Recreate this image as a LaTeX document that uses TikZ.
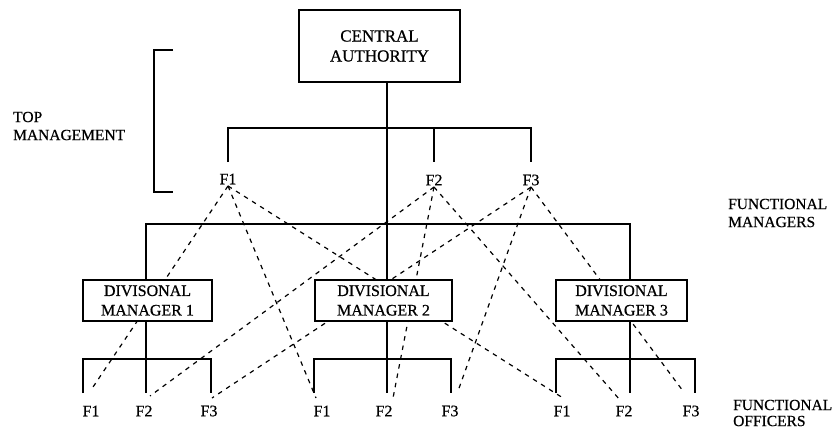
\documentclass[tikz,border=0pt]{standalone}
\usepackage{fontspec}
\setmainfont{Liberation Serif}[FakeBold=0.6]
\newfontfamily\plate{Liberation Serif}[FakeBold=0.6]
\usetikzlibrary{backgrounds}
\begin{document}
\begin{tikzpicture}[x=1pt,y=-1pt,
  box/.style={draw,line width=1.1pt,fill=white,inner sep=0pt,align=center,
              font=\plate\fontsize{16}{19.5}\selectfont},
  lbl/.style={inner sep=1.5pt,font=\plate\fontsize{16}{19}\selectfont},
  side/.style={inner sep=0pt,align=left,anchor=west,
               font=\plate\fontsize{15.5}{18}\selectfont},
  org/.style={line width=1.1pt},
  fline/.style={line width=1.2pt,dash pattern=on 4.5pt off 5pt}]
\useasboundingbox (0,0) rectangle (840,429);

% levels of the solid tree
\coordinate (topbar) at (0,128);
\coordinate (topend) at (0,162);
\coordinate (midbar) at (0,224);
\coordinate (lowbar) at (0,359);
\coordinate (lowend) at (0,393);
% vertical trunk of each division
\coordinate (x1) at (146,0);
\coordinate (x2) at (387,0);
\coordinate (x3) at (630,0);
% outer drops of the officer groups
\coordinate (g1l) at (83,393);  \coordinate (g1r) at (211,393);
\coordinate (g2l) at (314,393); \coordinate (g2r) at (451,393);
\coordinate (g3l) at (556,393); \coordinate (g3r) at (695,393);

% boxes
\node[box,minimum width=161pt,minimum height=72pt,font=\plate\fontsize{17}{20}\selectfont] (ca) at (379.5,46) {CENTRAL\\AUTHORITY};
\node[box,minimum width=129pt,minimum height=41pt] (dm1) at (147.5,300.5) {DIVISONAL\\MANAGER 1};
\node[box,minimum width=137pt,minimum height=41pt] (dm2) at (383.5,300.5) {DIVISIONAL\\MANAGER 2};
\node[box,minimum width=131pt,minimum height=41pt] (dm3) at (621.5,300.5) {DIVISIONAL\\MANAGER 3};

% functional managers
\node[lbl] (tf1) at (228,179) {F1};
\node[lbl] (tf2) at (434,180) {F2};
\node[lbl] (tf3) at (531,180) {F3};

% functional officers
\node[lbl] (a1) at (91,411) {F1};
\node[lbl] (a2) at (144,411) {F2};
\node[lbl] (a3) at (209,411) {F3};
\node[lbl] (b1) at (322,411) {F1};
\node[lbl] (b2) at (384,411) {F2};
\node[lbl] (b3) at (450,411) {F3};
\node[lbl] (c1) at (562,411) {F1};
\node[lbl] (c2) at (624,411) {F2};
\node[lbl] (c3) at (691,411) {F3};

% side captions
\node[side] (tm) at (13,126) {TOP\\MANAGEMENT};
\node[side] (fm) at (728,213) {FUNCTIONAL\\MANAGERS};
\node[side,font=\plate\fontsize{15.5}{16}\selectfont] (fo) at (733,413) {FUNCTIONAL\\OFFICERS};

% bracket for top management
\coordinate (bt) at (173,50);
\coordinate (bb) at (173,192);
\draw[org] (bt) -- ++(-19,0) -- ++(0,142) -- (bb);

% solid lines of authority
\draw[org] (tf1 |- topend) -- (tf1 |- topbar) -- (tf3 |- topbar) -- (tf3 |- topend);
\draw[org] (tf2 |- topbar) -- (tf2 |- topend);
\draw[org] (x2 |- ca.south) -- (x2 |- dm2.north);
\draw[org] (x1 |- dm1.north) -- (x1 |- midbar) -- (x3 |- midbar) -- (x3 |- dm3.north);
\draw[org] (x1 |- dm1.south) -- (x1 |- lowend);
\draw[org] (x2 |- dm2.south) -- (x2 |- lowend);
\draw[org] (x3 |- dm3.south) -- (x3 |- lowend);
\draw[org] (g1l) -- (g1l |- lowbar) -- (g1r |- lowbar) -- (g1r);
\draw[org] (g2l) -- (g2l |- lowbar) -- (g2r |- lowbar) -- (g2r);
\draw[org] (g3l) -- (g3l |- lowbar) -- (g3r |- lowbar) -- (g3r);

% ends of the functional (dashed) lines
\coordinate (e11) at (91,390);
\coordinate (e12) at (316,398);
\coordinate (e13) at (563,398);
\coordinate (e21) at (150,396);
\coordinate (e22) at (393,398);
\coordinate (e23) at (620,400);
\coordinate (e31) at (212,398);
\coordinate (e32) at (458,391);
\coordinate (e33) at (683,391);

\begin{pgfonlayer}{background}
  \draw[fline] (tf1.south) -- (e11);
  \draw[fline] (tf1.south) -- (e12);
  \draw[fline] (tf1.south) -- (e13);
  \draw[fline] (tf2.south) -- (e21);
  \draw[fline] (tf2.south) -- (e22);
  \draw[fline] (tf2.south) -- (e23);
  \draw[fline] (tf3.south) -- (e31);
  \draw[fline] (tf3.south) -- (e32);
  \draw[fline] (tf3.south) -- (e33);
\end{pgfonlayer}
\end{tikzpicture}
\end{document}
